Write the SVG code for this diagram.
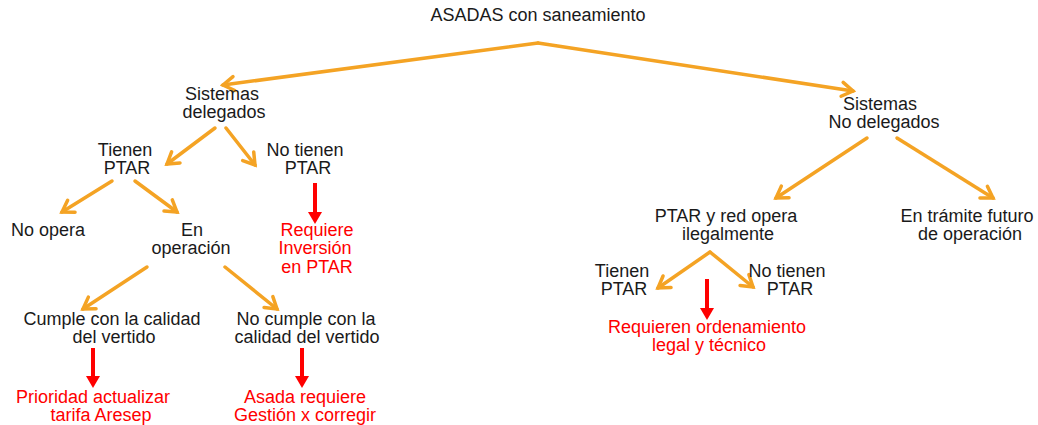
<svg xmlns="http://www.w3.org/2000/svg" width="1038" height="425" viewBox="0 0 1038 425">
<style>
  text { font-family: "Liberation Sans", Arial, sans-serif; font-size: 18px; text-anchor: middle; }
  .k { fill: #1a1a1a; }
  .r { fill: #ff0000; }
  .o { stroke: #f4a324; stroke-width: 3.5; fill: none; stroke-linecap: round; marker-end: url(#oa); }
  .rd { stroke: #ff0000; stroke-width: 4; fill: none; marker-end: url(#ra); }
</style>
<defs>
  <marker id="oa" viewBox="-14 -10 17 20" refX="0" refY="0" markerWidth="17" markerHeight="20" markerUnits="userSpaceOnUse" orient="auto">
    <path d="M-11,-7 L0,0 L-11,7" fill="none" stroke="#f4a324" stroke-width="3.5" stroke-linecap="round" stroke-linejoin="miter"/>
  </marker>
  <marker id="ra" viewBox="0 -8 13 16" refX="0" refY="0" markerWidth="13" markerHeight="16" markerUnits="userSpaceOnUse" orient="auto">
    <path d="M0,-7 L12,0 L0,7 Z" fill="#ff0000"/>
  </marker>
</defs>
<rect width="1038" height="425" fill="#ffffff"/>

<g id="connectors">
  <path class="o" d="M538,43 L223,85"/>
  <path class="o" d="M538,43 L853,91"/>
  <path class="o" d="M215,128 L167,164"/>
  <path class="o" d="M226,128 L255,165"/>
  <path class="o" d="M112,181 L62,212"/>
  <path class="o" d="M135,181 L177,212"/>
  <path class="o" d="M147,267 L83,309"/>
  <path class="o" d="M225,267 L277,309"/>
  <path class="o" d="M867,138 L776,198"/>
  <path class="o" d="M897,138 L993,198"/>
  <path class="o" d="M710,252 L658,288"/>
  <path class="o" d="M710,252 L753,287"/>
  <path class="rd" d="M315,183 L315,212"/>
  <path class="rd" d="M93,348 L93,376"/>
  <path class="rd" d="M302,348 L302,376"/>
  <path class="rd" d="M707,279 L707,308"/>
</g>

<g id="n-root"><text class="k" x="538" y="21">ASADAS con saneamiento</text></g>
<g id="n-delegados"><text class="k" x="222" y="100">Sistemas</text><text class="k" x="224" y="118">delegados</text></g>
<g id="n-nodelegados"><text class="k" x="880" y="110">Sistemas</text><text class="k" x="884" y="128">No delegados</text></g>
<g id="n-tienen"><text class="k" x="125" y="156">Tienen</text><text class="k" x="127" y="174">PTAR</text></g>
<g id="n-notienen"><text class="k" x="305" y="156">No tienen</text><text class="k" x="308" y="174">PTAR</text></g>
<g id="n-noopera"><text class="k" x="48" y="236">No opera</text></g>
<g id="n-enoperacion"><text class="k" x="192" y="236">En</text><text class="k" x="191" y="254">operación</text></g>
<g id="n-requiere"><text class="r" x="317" y="236">Requiere</text><text class="r" x="315" y="254">Inversión</text><text class="r" x="317" y="273">en PTAR</text></g>
<g id="n-cumple"><text class="k" x="112" y="325">Cumple con la calidad</text><text class="k" x="114" y="343">del vertido</text></g>
<g id="n-nocumple"><text class="k" x="306" y="325">No cumple con la</text><text class="k" x="307" y="343">calidad del vertido</text></g>
<g id="n-prioridad"><text class="r" x="93" y="403">Prioridad actualizar</text><text class="r" x="101" y="421">tarifa Aresep</text></g>
<g id="n-asada"><text class="r" x="305" y="403">Asada requiere</text><text class="r" x="305" y="421">Gestión x corregir</text></g>
<g id="n-ilegal"><text class="k" x="726" y="222">PTAR y red opera</text><text class="k" x="728" y="240">ilegalmente</text></g>
<g id="n-tramite"><text class="k" x="967" y="222">En trámite futuro</text><text class="k" x="970" y="240">de operación</text></g>
<g id="n-tienen2"><text class="k" x="622" y="277">Tienen</text><text class="k" x="624" y="295">PTAR</text></g>
<g id="n-notienen2"><text class="k" x="787" y="277">No tienen</text><text class="k" x="790" y="295">PTAR</text></g>
<g id="n-ordenamiento"><text class="r" x="707" y="333">Requieren ordenamiento</text><text class="r" x="709" y="351">legal y técnico</text></g>
</svg>
